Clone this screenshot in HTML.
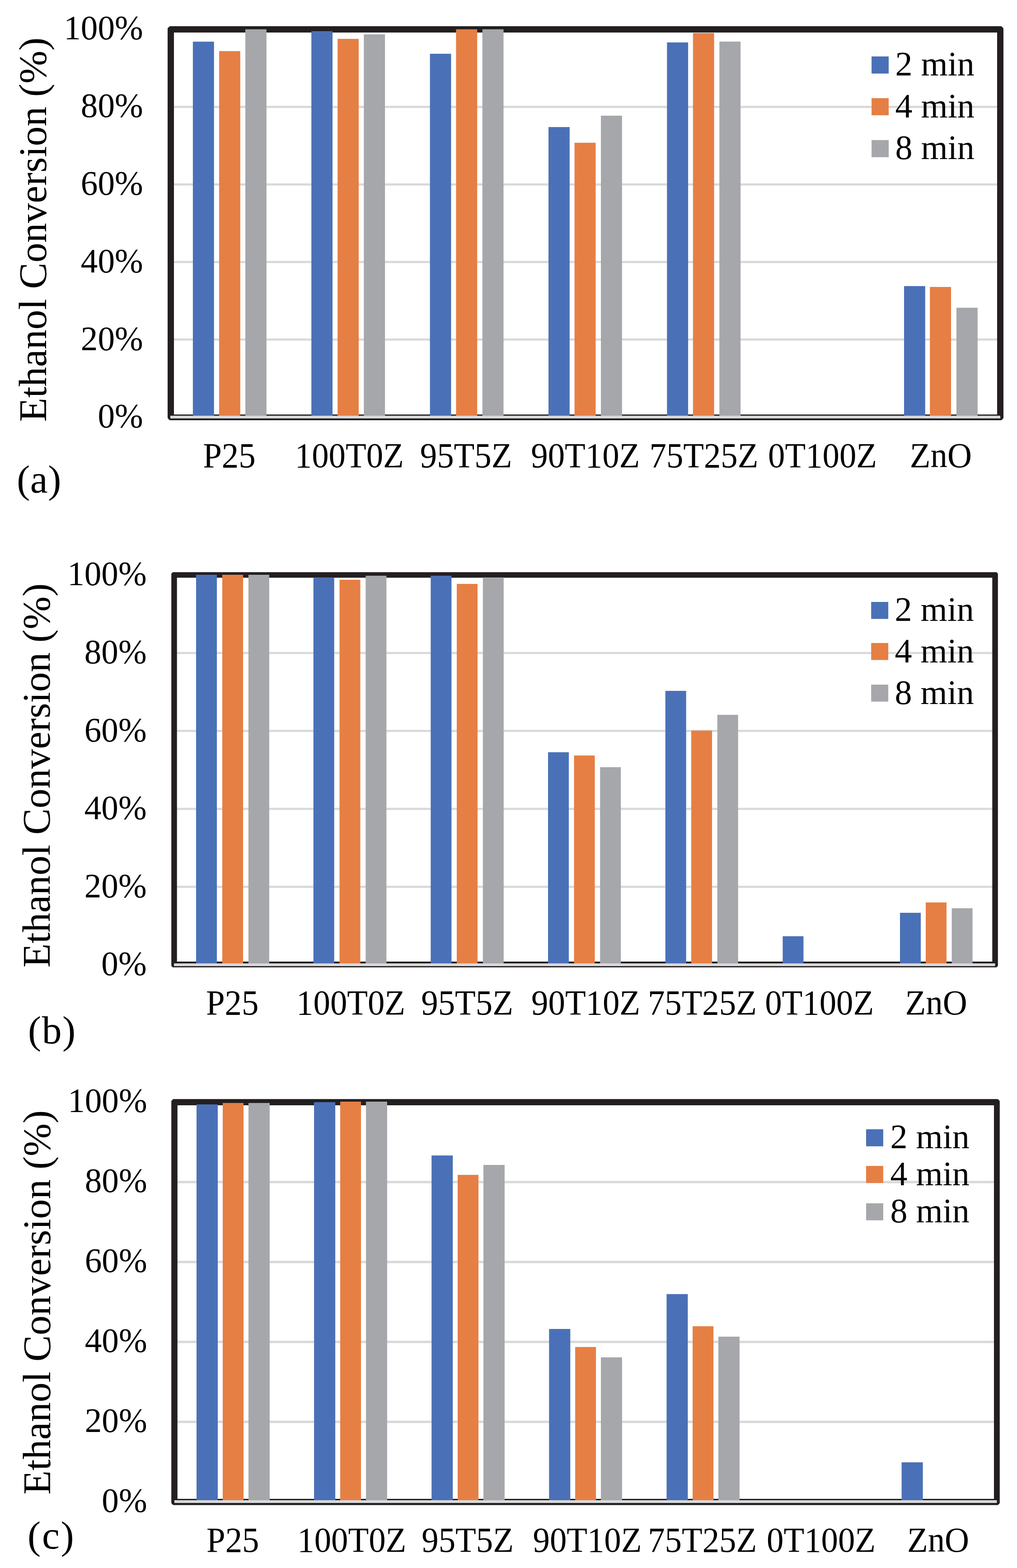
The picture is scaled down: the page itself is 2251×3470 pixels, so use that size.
<!DOCTYPE html>
<html><head><meta charset="utf-8"><title>Ethanol Conversion</title>
<style>html,body{margin:0;padding:0;background:#fff}svg{display:block}text{font-family:"Liberation Serif","Times New Roman",serif;fill:#000}</style>
</head><body>
<svg width="2251" height="3470" viewBox="0 0 2251 3470">
<rect width="2251" height="3470" fill="#fff"/>
<rect x="378" y="749" width="1836" height="4.8" fill="#d9d9db"/>
<rect x="378" y="577.4" width="1836" height="4.8" fill="#d9d9db"/>
<rect x="378" y="405.8" width="1836" height="4.8" fill="#d9d9db"/>
<rect x="378" y="234.2" width="1836" height="4.8" fill="#d9d9db"/>
<path d="M376 58H2216Q2219.2 59.8 2221 63V925Q2219.2 928.2 2216 930H376Q372.8 928.2 371 925V63Q372.8 59.8 376 58ZM385 72V917.2H2207V72Z" fill="#231f20" fill-rule="evenodd"/>
<rect x="426.9" y="92.2" width="46.8" height="830.8" fill="#4a71b7"/>
<rect x="485" y="113.1" width="46.8" height="809.9" fill="#e67f44"/>
<rect x="543" y="64.8" width="46.8" height="858.2" fill="#a6a7ab"/>
<rect x="689.2" y="69" width="46.8" height="854" fill="#4a71b7"/>
<rect x="747.2" y="86" width="46.8" height="837" fill="#e67f44"/>
<rect x="805.3" y="76.1" width="46.8" height="846.9" fill="#a6a7ab"/>
<rect x="951.6" y="119" width="46.8" height="804" fill="#4a71b7"/>
<rect x="1009.4" y="64.8" width="46.8" height="858.2" fill="#e67f44"/>
<rect x="1067.7" y="64.8" width="46.8" height="858.2" fill="#a6a7ab"/>
<rect x="1214" y="281.2" width="46.8" height="641.8" fill="#4a71b7"/>
<rect x="1271.6" y="315.9" width="46.8" height="607.1" fill="#e67f44"/>
<rect x="1330" y="256" width="46.8" height="667" fill="#a6a7ab"/>
<rect x="1476.3" y="93.9" width="46.8" height="829.1" fill="#4a71b7"/>
<rect x="1533.8" y="73.1" width="46.8" height="849.9" fill="#e67f44"/>
<rect x="1592.3" y="92" width="46.8" height="831" fill="#a6a7ab"/>
<rect x="2001" y="633.1" width="46.8" height="289.9" fill="#4a71b7"/>
<rect x="2058.2" y="635" width="46.8" height="288" fill="#e67f44"/>
<rect x="2117" y="681" width="46.8" height="242" fill="#a6a7ab"/>
<rect x="377" y="920" width="1837" height="6" fill="#d9d9db"/>
<text x="316.7" y="946.4" font-size="75.2" text-anchor="end">0%</text>
<text x="316.7" y="774.5" font-size="75.2" text-anchor="end">20%</text>
<text x="316.7" y="602.6" font-size="75.2" text-anchor="end">40%</text>
<text x="316.7" y="430.8" font-size="75.2" text-anchor="end">60%</text>
<text x="316.7" y="258.9" font-size="75.2" text-anchor="end">80%</text>
<text x="316.7" y="87" font-size="75.2" text-anchor="end">100%</text>
<text transform="translate(449.2 1034.3) scale(1 1.04)" font-size="74.8">P25</text>
<text transform="translate(652.8 1034.3) scale(1 1.04)" font-size="74.8">100T0Z</text>
<text transform="translate(929.8 1034.3) scale(1 1.04)" font-size="74.8">95T5Z</text>
<text transform="translate(1175.3 1034.3) scale(1 1.04)" font-size="74.8">90T10Z</text>
<text transform="translate(1437.5 1034.3) scale(1 1.04)" font-size="74.8">75T25Z</text>
<text transform="translate(1700.1 1034.3) scale(1 1.04)" font-size="74.8">0T100Z</text>
<text transform="translate(2013.8 1034.3) scale(1 1.04)" font-size="74.8">ZnO</text>
<rect x="1929.1" y="124.9" width="37.9" height="37.9" fill="#4a71b7"/>
<text x="1981.6" y="167.4" font-size="76">2 min</text>
<rect x="1929.1" y="217.2" width="37.9" height="37.9" fill="#e67f44"/>
<text x="1981.6" y="259.9" font-size="76">4 min</text>
<rect x="1929.1" y="310" width="37.9" height="37.9" fill="#a6a7ab"/>
<text x="1981.6" y="352.3" font-size="76">8 min</text>
<text transform="translate(101.9 933.5) rotate(-90)" font-size="87.5">Ethanol Conversion (%)</text>
<text x="37.2" y="1089.6" font-size="87.5" letter-spacing="0.5">(a)</text>
<rect x="385.5" y="1960.2" width="1817" height="4.7" fill="#d9d9db"/>
<rect x="385.5" y="1787.7" width="1817" height="4.7" fill="#d9d9db"/>
<rect x="385.5" y="1615.2" width="1817" height="4.7" fill="#d9d9db"/>
<rect x="385.5" y="1442.7" width="1817" height="4.7" fill="#d9d9db"/>
<path d="M382.7 1266.3H2205.3Q2207.6 1267.5 2208.8 1269.8V2137.2Q2207.6 2139.5 2205.3 2140.7H382.7Q380.4 2139.5 379.2 2137.2V1269.8Q380.4 1267.5 382.7 1266.3ZM391.7 1278.6V2128.1H2196.3V1278.6Z" fill="#231f20" fill-rule="evenodd"/>
<rect x="434" y="1272" width="46" height="863" fill="#4a71b7"/>
<rect x="492" y="1272" width="46" height="863" fill="#e67f44"/>
<rect x="549.9" y="1272" width="46" height="863" fill="#a6a7ab"/>
<rect x="693.7" y="1277.9" width="46" height="857.1" fill="#4a71b7"/>
<rect x="751.5" y="1283" width="46" height="852" fill="#e67f44"/>
<rect x="809.3" y="1274.1" width="46" height="860.9" fill="#a6a7ab"/>
<rect x="953.3" y="1274.1" width="46" height="860.9" fill="#4a71b7"/>
<rect x="1011" y="1292.2" width="46" height="842.8" fill="#e67f44"/>
<rect x="1068.8" y="1277.9" width="46" height="857.1" fill="#a6a7ab"/>
<rect x="1213" y="1664.7" width="46" height="470.3" fill="#4a71b7"/>
<rect x="1270.5" y="1671.9" width="46" height="463.1" fill="#e67f44"/>
<rect x="1328.2" y="1697.8" width="46" height="437.2" fill="#a6a7ab"/>
<rect x="1472.7" y="1528.9" width="46" height="606.1" fill="#4a71b7"/>
<rect x="1530" y="1616.8" width="46" height="518.2" fill="#e67f44"/>
<rect x="1587.7" y="1581.9" width="46" height="553.1" fill="#a6a7ab"/>
<rect x="1732.4" y="2071.9" width="46" height="63.1" fill="#4a71b7"/>
<rect x="1992" y="2020" width="46" height="115" fill="#4a71b7"/>
<rect x="2049" y="1997.1" width="46" height="137.9" fill="#e67f44"/>
<rect x="2106.6" y="2009.9" width="46" height="125.1" fill="#a6a7ab"/>
<rect x="385.1" y="2132" width="1817.4" height="6" fill="#d9d9db"/>
<text x="324.6" y="2158.4" font-size="75.2" text-anchor="end">0%</text>
<text x="324.6" y="1985.8" font-size="75.2" text-anchor="end">20%</text>
<text x="324.6" y="1813.1" font-size="75.2" text-anchor="end">40%</text>
<text x="324.6" y="1640.5" font-size="75.2" text-anchor="end">60%</text>
<text x="324.6" y="1467.8" font-size="75.2" text-anchor="end">80%</text>
<text x="324.6" y="1295.2" font-size="75.2" text-anchor="end">100%</text>
<text transform="translate(455.9 2245) scale(1 1.04)" font-size="74.8">P25</text>
<text transform="translate(656.1 2245) scale(1 1.04)" font-size="74.8">100T0Z</text>
<text transform="translate(932.3 2245) scale(1 1.04)" font-size="74.8">95T5Z</text>
<text transform="translate(1176.1 2245) scale(1 1.04)" font-size="74.8">90T10Z</text>
<text transform="translate(1433.9 2245) scale(1 1.04)" font-size="74.8">75T25Z</text>
<text transform="translate(1693.2 2245) scale(1 1.04)" font-size="74.8">0T100Z</text>
<text transform="translate(2003.6 2245) scale(1 1.04)" font-size="74.8">ZnO</text>
<rect x="1928.2" y="1332.1" width="37.9" height="37.6" fill="#4a71b7"/>
<text x="1980.6" y="1373.8" font-size="76">2 min</text>
<rect x="1928.2" y="1423" width="37.9" height="37.6" fill="#e67f44"/>
<text x="1980.6" y="1465.7" font-size="76">4 min</text>
<rect x="1928.2" y="1515.1" width="37.9" height="37.6" fill="#a6a7ab"/>
<text x="1980.6" y="1557.9" font-size="76">8 min</text>
<text transform="translate(109.8 2141.3) rotate(-90)" font-size="87.5">Ethanol Conversion (%)</text>
<text x="62.1" y="2309.2" font-size="87.5" letter-spacing="1.5">(b)</text>
<rect x="386" y="3144" width="1820.4" height="5.2" fill="#d9d9db"/>
<rect x="386" y="2967.1" width="1820.4" height="5.2" fill="#d9d9db"/>
<rect x="386" y="2790.2" width="1820.4" height="5.2" fill="#d9d9db"/>
<rect x="386" y="2613.3" width="1820.4" height="5.2" fill="#d9d9db"/>
<path d="M383.7 2432.3H2208.3Q2211.2 2433.9 2212.8 2436.8V3326.2Q2211.2 3329.1 2208.3 3330.7H383.7Q380.8 3329.1 379.2 3326.2V2436.8Q380.8 2433.9 383.7 2432.3ZM392.8 2445.9V3317.1H2200V2445.9Z" fill="#231f20" fill-rule="evenodd"/>
<rect x="435" y="2444.1" width="47" height="879.4" fill="#4a71b7"/>
<rect x="493" y="2440.9" width="46" height="882.6" fill="#e67f44"/>
<rect x="550" y="2440.9" width="46.9" height="882.6" fill="#a6a7ab"/>
<rect x="695.1" y="2439.1" width="47" height="884.4" fill="#4a71b7"/>
<rect x="753" y="2437.9" width="46" height="885.6" fill="#e67f44"/>
<rect x="810" y="2437.9" width="46.9" height="885.6" fill="#a6a7ab"/>
<rect x="955.2" y="2557.1" width="47" height="766.4" fill="#4a71b7"/>
<rect x="1013" y="2600" width="46" height="723.5" fill="#e67f44"/>
<rect x="1070" y="2578" width="46.9" height="745.5" fill="#a6a7ab"/>
<rect x="1215.3" y="2941" width="47" height="382.5" fill="#4a71b7"/>
<rect x="1273.1" y="2980.9" width="46" height="342.6" fill="#e67f44"/>
<rect x="1330" y="3003.8" width="46.9" height="319.7" fill="#a6a7ab"/>
<rect x="1475.4" y="2863.8" width="47" height="459.7" fill="#4a71b7"/>
<rect x="1533.1" y="2935" width="46" height="388.5" fill="#e67f44"/>
<rect x="1590" y="2958" width="46.9" height="365.5" fill="#a6a7ab"/>
<rect x="1995.6" y="3236.1" width="47" height="87.4" fill="#4a71b7"/>
<rect x="386" y="3320" width="1820.4" height="6.1" fill="#d9d9db"/>
<text x="325.6" y="3346.4" font-size="75.2" text-anchor="end">0%</text>
<text x="325.6" y="3169.3" font-size="75.2" text-anchor="end">20%</text>
<text x="325.6" y="2992.2" font-size="75.2" text-anchor="end">40%</text>
<text x="325.6" y="2815.2" font-size="75.2" text-anchor="end">60%</text>
<text x="325.6" y="2638.1" font-size="75.2" text-anchor="end">80%</text>
<text x="325.6" y="2461" font-size="75.2" text-anchor="end">100%</text>
<text transform="translate(457.1 3433.7) scale(1 1.04)" font-size="74.8">P25</text>
<text transform="translate(658.3 3433.7) scale(1 1.04)" font-size="74.8">100T0Z</text>
<text transform="translate(933.3 3433.7) scale(1 1.04)" font-size="74.8">95T5Z</text>
<text transform="translate(1179.5 3433.7) scale(1 1.04)" font-size="74.8">90T10Z</text>
<text transform="translate(1434.2 3433.7) scale(1 1.04)" font-size="74.8">75T25Z</text>
<text transform="translate(1697.1 3433.7) scale(1 1.04)" font-size="74.8">0T100Z</text>
<text transform="translate(2008 3433.7) scale(1 1.04)" font-size="74.8">ZnO</text>
<rect x="1917" y="2499.1" width="37.9" height="37.7" fill="#4a71b7"/>
<text x="1970.6" y="2540.9" font-size="76">2 min</text>
<rect x="1917" y="2580.2" width="37.9" height="37.7" fill="#e67f44"/>
<text x="1970.6" y="2622.9" font-size="76">4 min</text>
<rect x="1917" y="2662.9" width="37.9" height="37.7" fill="#a6a7ab"/>
<text x="1970.6" y="2704.5" font-size="76">8 min</text>
<text transform="translate(110.8 3307.4) rotate(-90)" font-size="87.5">Ethanol Conversion (%)</text>
<text x="61" y="3427.3" font-size="87.5" letter-spacing="2.8">(c)</text>
</svg>
</body></html>
